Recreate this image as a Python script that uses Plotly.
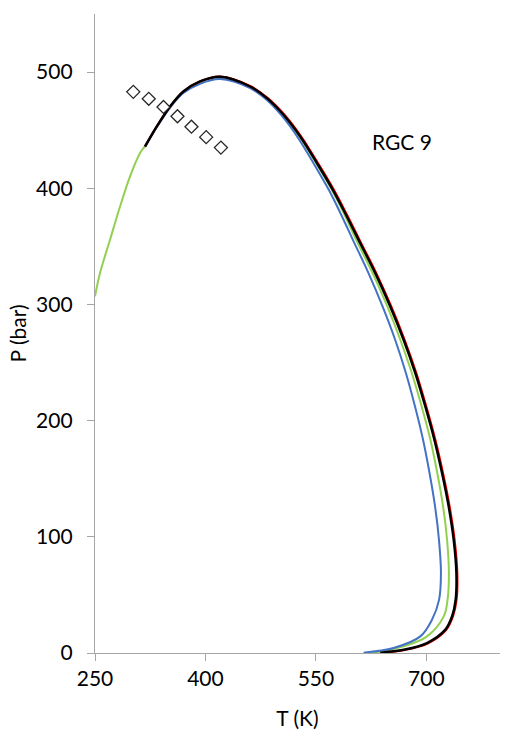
import plotly.graph_objects as go

# Data
black_T = [318.0, 333.9, 352.0, 370.0, 392.7, 419.9, 460.7, 483.4, 506.0, 528.7, 551.4, 573.0, 591.0, 607.9, 630.6, 651.0, 669.1, 685.0, 698.6, 710.9, 721.3, 730.3, 737.1, 740.8, 739.8, 734.9, 725.8, 700.9, 669.1, 641.9, 637.4]
black_P = [436.0, 453.2, 470.4, 483.3, 492.0, 496.0, 487.6, 477.6, 463.3, 444.6, 421.7, 398.7, 377.0, 355.6, 327.0, 298.3, 269.6, 241.0, 212.2, 183.6, 154.9, 126.2, 97.5, 68.8, 45.9, 31.5, 20.1, 8.6, 2.8, 0.5, 0.0]

red_T = [318.0, 333.9, 352.0, 370.0, 392.9, 420.2, 461.5, 484.4, 507.1, 529.9, 552.7, 574.3, 592.3, 609.2, 631.9, 652.3, 670.4, 686.3, 699.9, 712.2, 722.6, 731.6, 738.4, 742.1, 741.1, 736.2, 727.1, 702.4, 670.8, 643.5, 640.5]
red_P = [436.0, 453.2, 470.4, 483.3, 492.1, 496.2, 487.8, 477.8, 463.5, 444.8, 421.9, 398.9, 377.2, 355.8, 327.2, 298.5, 269.8, 241.2, 212.4, 183.8, 155.1, 126.4, 97.6, 68.8, 45.9, 31.5, 20.0, 8.4, 2.6, 0.4, 0.0]

green_T = [250.0, 256.8, 270.4, 284.0, 297.6, 311.2, 318.0, 333.9, 352.0, 370.0, 392.7, 419.9, 460.5, 483.0, 505.3, 527.7, 550.2, 571.6, 589.0, 604.7, 627.0, 647.0, 664.6, 680.2, 693.6, 705.5, 714.8, 722.7, 728.1, 730.6, 728.8, 723.6, 700.9, 669.1, 626.6]
green_P = [307.0, 327.0, 355.7, 384.3, 410.2, 430.3, 436.5, 453.2, 470.4, 483.3, 492.0, 496.0, 487.6, 477.6, 463.3, 444.6, 421.7, 398.7, 377.0, 355.6, 327.0, 298.3, 269.6, 241.0, 212.2, 183.6, 154.9, 126.2, 97.5, 68.8, 45.9, 31.5, 14.3, 5.7, 0.0]

blue_T = [318.0, 333.9, 352.0, 370.0, 392.7, 419.9, 460.7, 483.4, 502.5, 524.5, 546.6, 567.5, 584.5, 600.2, 621.4, 640.5, 657.6, 672.2, 684.6, 695.5, 704.3, 711.8, 717.1, 719.8, 717.3, 707.7, 691.8, 655.5, 614.7]
blue_P = [435.5, 452.5, 469.5, 482.0, 490.0, 494.0, 486.2, 476.0, 463.3, 444.6, 421.7, 398.7, 377.0, 355.6, 327.0, 298.3, 269.6, 241.0, 212.2, 183.6, 154.9, 126.2, 97.5, 68.8, 45.9, 28.7, 14.3, 4.3, 0.3]

exp_T = [302, 323, 343, 362, 381, 401, 421]
exp_P = [483, 477, 470, 462, 453, 444, 435]

x_ticks = [250, 400, 550, 700]
y_ticks = [0, 100, 200, 300, 400, 500]

FONT = "Lato, Carlito, Calibri, sans-serif"
AXIS_COL = "#A6A6A6"

fig = go.Figure()
line_opts = dict(mode="lines", line_shape="spline", hoverinfo="skip", showlegend=False)
fig.add_trace(go.Scatter(x=green_T, y=green_P, line=dict(color="#92D050", width=2), **line_opts))
fig.add_trace(go.Scatter(x=blue_T, y=blue_P, line=dict(color="#4472C4", width=2), **line_opts))
fig.add_trace(go.Scatter(x=red_T, y=red_P, line=dict(color="#FF0000", width=2), **line_opts))
fig.add_trace(go.Scatter(x=black_T, y=black_P, line=dict(color="#000000", width=2.5), **line_opts))
fig.add_trace(go.Scatter(
    x=exp_T, y=exp_P, mode="markers", showlegend=False,
    marker=dict(symbol="diamond", size=10, color="white",
                line=dict(color="#262626", width=1.3)),
))

fig.add_annotation(x=667, y=440, text="RGC 9", showarrow=False,
                   font=dict(family=FONT, size=21, color="#000000"))

fig.update_layout(
    width=518, height=742,
    margin=dict(l=95, r=18, t=14, b=89),
    paper_bgcolor="white", plot_bgcolor="white",
    font=dict(family=FONT, size=21, color="#000000"),
)
fig.update_xaxes(
    range=[250, 800], tickvals=x_ticks, ticktext=[str(v) for v in x_ticks],
    showgrid=False, zeroline=False, showline=True, linecolor=AXIS_COL, linewidth=1.3,
    ticks="outside", ticklen=7, tickcolor=AXIS_COL, tickwidth=1.3,
    title=dict(text="T (K)", font=dict(family=FONT, size=21), standoff=21),
)
fig.update_yaxes(
    range=[0, 550], tickvals=y_ticks, ticktext=[str(v) for v in y_ticks],
    showgrid=False, zeroline=False, showline=True, linecolor=AXIS_COL, linewidth=1.3,
    ticks="outside", ticklen=7, tickcolor=AXIS_COL, tickwidth=1.3, ticklabelstandoff=10,
    title=dict(text="P (bar)", font=dict(family=FONT, size=21), standoff=3),
)

fig.write_html("out.html")
